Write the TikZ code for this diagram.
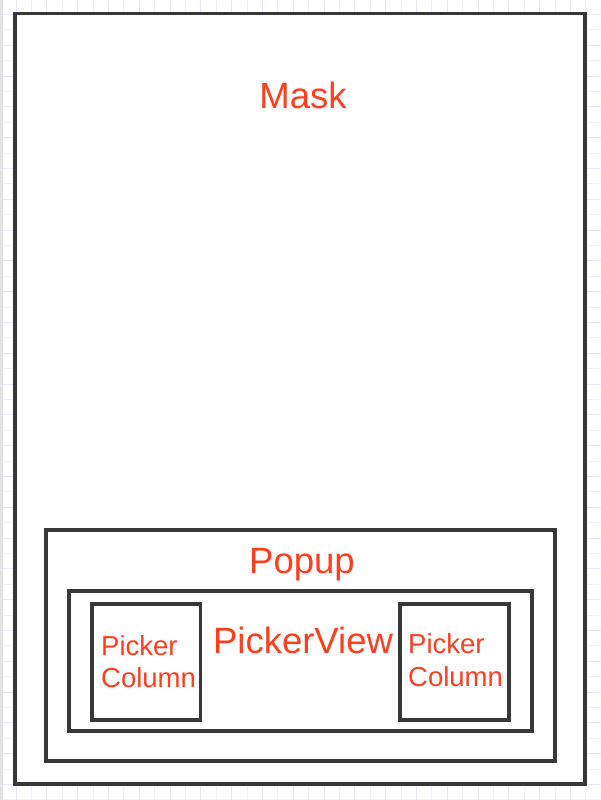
\documentclass[tikz,border=0pt]{standalone}
\usepackage{fontspec}
\setmainfont{Liberation Sans}
\definecolor{lbl}{HTML}{FF3D1F}
\definecolor{boxc}{HTML}{383838}
\definecolor{gridmin}{HTML}{F2F2FC}
\definecolor{gridmaj}{HTML}{E8E8F8}
\definecolor{strip}{HTML}{E2E2E2}
\tikzset{
  frame/.style={draw=boxc, line width=3.2pt, fill=white},
  biglbl/.style={text=lbl, font=\fontsize{36.5}{40}\selectfont, inner sep=0pt, anchor=base},
  collbl/.style={text=lbl, font=\fontsize{27.5}{32}\selectfont, inner sep=0pt, anchor=base west, align=left},
}
\begin{document}
\begin{tikzpicture}[x=1pt, y=-1pt]
\useasboundingbox (0,0) rectangle (601,800);
\fill[white] (0,0) rectangle (601,800);
% grid
\foreach \i in {0,...,38} {
  \pgfmathsetmacro{\xx}{16+15.4*\i}
  \draw[gridmin, line width=0.8pt] (\xx,0) -- (\xx,800);
}
\foreach \i in {0,...,51} {
  \pgfmathsetmacro{\yy}{14.4+15.4*\i}
  \draw[gridmin, line width=0.8pt] (0,\yy) -- (601,\yy);
}
\foreach \i in {0,...,19} {
  \pgfmathsetmacro{\xx}{16+30.8*\i}
  \draw[gridmaj, line width=0.8pt] (\xx,0) -- (\xx,800);
}
\foreach \i in {0,...,25} {
  \pgfmathsetmacro{\yy}{14.4+30.8*\i}
  \draw[gridmaj, line width=0.8pt] (0,\yy) -- (601,\yy);
}
\fill[strip] (0,0) rectangle (3,800);
% boxes
\draw[frame] (15,13.5) rectangle (585,784);
\node[biglbl] (mask) at (303,108) {Mask};
\draw[frame] (46,530) rectangle (555,761);
\node[biglbl] (popup) at (302,573) {Popup};
\draw[frame] (69,591) rectangle (532,731);
\node[biglbl] (pv) at (303,653) {PickerView};
\draw[frame] (92,604) rectangle (200.5,720);
\node[collbl] (c1) at (101,655) {Picker};
\node[collbl] (c1b) at (101,687) {Column};
\draw[frame] (400,604) rectangle (509,720);
\node[collbl] (c2) at (408,653) {Picker};
\node[collbl] (c2b) at (408,686) {Column};
\end{tikzpicture}
\end{document}
